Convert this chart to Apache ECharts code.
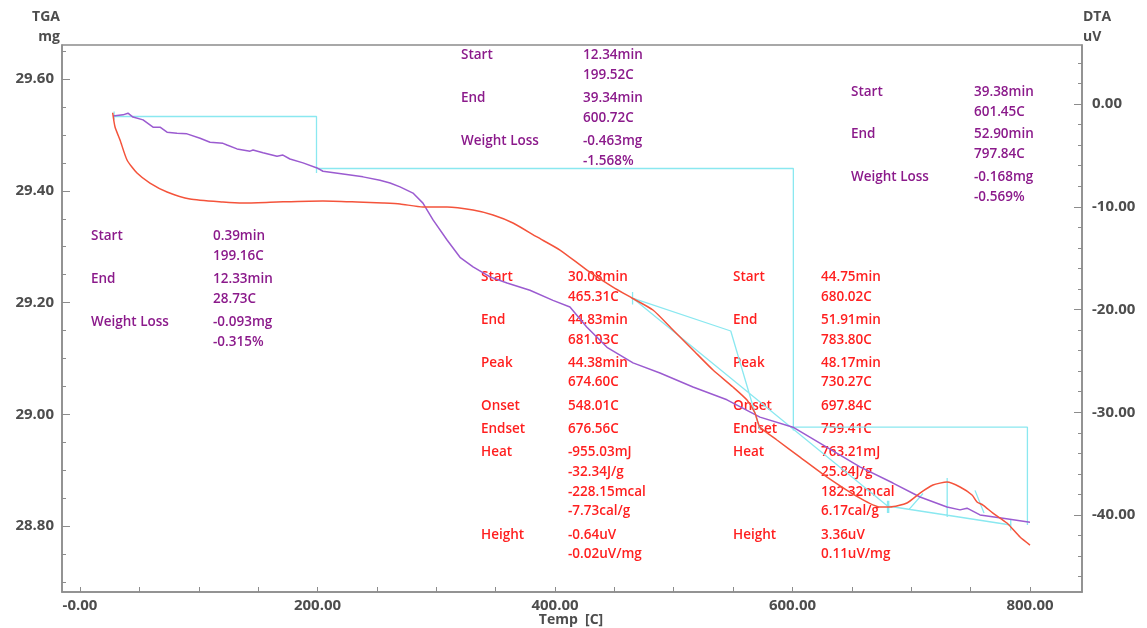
<!DOCTYPE html>
<html>
<head>
<meta charset="utf-8">
<script src="https://cdn.jsdelivr.net/npm/echarts@6/dist/echarts.min.js"></script>
<style>
html,body{margin:0;padding:0;background:#fff;}
#chart{width:1147px;height:628px;}
</style>
</head>
<body>
<div id="chart"></div>
<script>
// ---------- data ----------
const tempTGA = [27.8,36.2,40.4,44.6,53.1,61.5,67.4,73.3,81.7,90.1,101.1,109.5,120.4,123.8,132.2,143.2,145.7,154.1,165.9,170.9,176.8,187.8,199.6,204.6,221.5,238.3,252.6,261.1,269.5,280.4,288.8,297.3,309.1,320.0,331.0,345.3,359.6,378.9,398.3,412.6,426.9,443.8,465.7,488.4,516.2,544.8,572.6,600.4,629.1,656.8,684.6,707.4,730.1,741.1,747.0,757.9,777.3,800.0];
const tga = [29.534,29.536,29.539,29.532,29.527,29.514,29.514,29.505,29.503,29.502,29.494,29.487,29.485,29.482,29.475,29.471,29.473,29.468,29.462,29.464,29.457,29.450,29.441,29.435,29.430,29.425,29.419,29.414,29.407,29.396,29.378,29.348,29.312,29.281,29.264,29.246,29.235,29.222,29.204,29.192,29.156,29.120,29.092,29.074,29.049,29.026,28.995,28.977,28.941,28.906,28.877,28.852,28.834,28.829,28.832,28.820,28.814,28.807];

const tempDTA = [27.5,29.5,33.7,39.6,48.0,58.9,73.3,92.6,120.4,137.3,165.9,204.6,233.3,255.2,269.5,288.8,309.1,331.0,347.8,364.6,384.8,404.2,426.9,448.8,464.8,482.5,499.4,516.2,533.1,549.9,561.7,568.4,572.6,586.9,606.3,629.1,656.8,673.7,682.1,696.4,707.4,718.3,730.1,741.1,751.2,755.4,760.4,768.8,780.6,791.6,800.0];
const dta = [-0.85,-2.24,-3.50,-5.45,-6.72,-7.69,-8.56,-9.25,-9.54,-9.64,-9.54,-9.44,-9.54,-9.64,-9.73,-10.02,-10.02,-10.32,-10.80,-11.58,-12.94,-14.21,-16.16,-17.81,-18.88,-20.05,-22.00,-23.94,-25.89,-27.54,-28.81,-30.07,-31.44,-32.70,-34.36,-36.30,-38.35,-39.22,-39.22,-38.83,-37.86,-37.08,-36.79,-37.27,-38.05,-38.73,-39.03,-39.81,-40.78,-42.14,-42.92];

// weight-loss step lines (TGA axis), segments of [temp, mg] pairs
const stepSegs = [
  [[28.73,29.542],[28.73,29.527]],
  [[28.73,29.533],[199.16,29.533],[199.16,29.432]],
  [[199.16,29.440],[600.72,29.440],[600.72,28.971]],
  [[600.72,28.977],[797.84,28.977],[797.84,28.802]]
];
// DTA peak analysis lines (DTA axis)
const peakSegs = [
  [[465.31,-18.3],[465.31,-19.5]],
  [[465.31,-18.88],[548.01,-22.09],[572.6,-31.7]],
  [[465.31,-18.88],[681.03,-39.22]],
  [[680.02,-38.6],[680.02,-39.8]],
  [[681.03,-38.6],[681.03,-39.8]],
  [[680.02,-39.12],[783.80,-40.97]],
  [[783.80,-40.4],[783.80,-41.5]],
  [[730.27,-40.2],[730.27,-36.4]],
  [[697.84,-39.5],[709.9,-37.9]],
  [[753.7,-37.6],[761.3,-39.8]]
];

const xLabelVals = [0,200,400,600,800];
const xTickVals = [0,50,100,150,200,250,300,350,400,450,500,550,600,650,700,750,800];
const tgaLabelVals = [28.8,29.0,29.2,29.4,29.6];
const tgaTickVals = [28.70,28.75,28.80,28.85,28.90,28.95,29.00,29.05,29.10,29.15,29.20,29.25,29.30,29.35,29.40,29.45,29.50,29.55,29.60,29.65];
const dtaLabelVals = [-40,-30,-20,-10,0];
const dtaTickVals = [-46,-44,-42,-40,-38,-36,-34,-32,-30,-28,-26,-24,-22,-20,-18,-16,-14,-12,-10,-8,-6,-4,-2,0,2,4];

// annotation texts
const wlNames = ['Start','End','Weight Loss'];
const wl1 = ['0.39min','199.16C','12.33min','28.73C','-0.093mg','-0.315%'];
const wl2 = ['12.34min','199.52C','39.34min','600.72C','-0.463mg','-1.568%'];
const wl3 = ['39.38min','601.45C','52.90min','797.84C','-0.168mg','-0.569%'];
const pkNames = ['Start','','End','','Peak','','Onset','Endset','Heat','','','','Height',''];
const pk1 = ['30.08min','465.31C','44.83min','681.03C','44.38min','674.60C','548.01C','676.56C','-955.03mJ','-32.34J/g','-228.15mcal','-7.73cal/g','-0.64uV','-0.02uV/mg'];
const pk2 = ['44.75min','680.02C','51.91min','783.80C','48.17min','730.27C','697.84C','759.41C','763.21mJ','25.84J/g','182.32mcal','6.17cal/g','3.36uV','0.11uV/mg'];

// ---------- layout ----------
const XMIN = -15.16, XMAX = 843.8;
const TMIN = 28.682, TMAX = 29.661;
const DMIN = -47.49, DMAX = 5.742;
const purple = '#9b5bd0', red = '#f4533b', cyan = '#8ae8f0';
const txtPurple = '#8b1a8b', txtRed = '#ff1f1f';
const axisCol = '#8c8c8c', labCol = '#4d4d4d';
const FONT = '"Open Sans", "Noto Sans", sans-serif';

function pairs(xs, ys){ return xs.map((x,i)=>[x, ys[i]]); }
function segSeries(segs, yIdx){
  const data = [];
  segs.forEach((s,i)=>{ if(i>0) data.push([null,null]); s.forEach(p=>data.push(p)); });
  return {type:'line', yAxisIndex:yIdx, data, showSymbol:false, connectNulls:false,
    lineStyle:{color:cyan, width:1.3}, z:2, silent:true, animation:false};
}

const graphics = [];
function txt(x, y, s, color){
  graphics.push({type:'text', x, y, silent:true,
    style:{text:s, fill:color, font:'600 13.5px '+FONT, textVerticalAlign:'middle'}});
}
function wlBlock(x1, x2, y0, rowGap, vals){
  wlNames.forEach((n,i)=>{
    txt(x1, y0+i*rowGap, n, txtPurple);
    txt(x2, y0+i*rowGap, vals[2*i], txtPurple);
    txt(x2, y0+i*rowGap+20, vals[2*i+1], txtPurple);
  });
}
wlBlock(91, 213, 236, 43, wl1);
wlBlock(461, 583, 55, 43, wl2);
wlBlock(851, 974, 92, 42.5, wl3);
const pkOff = [0,20,43,63,86,105,129,152,175,195,215,234,258,277];
function pkBlock(x1, x2, y0, vals){
  pkOff.forEach((o,i)=>{
    if(pkNames[i]) txt(x1, y0+o, pkNames[i], txtRed);
    txt(x2, y0+o, vals[i], txtRed);
  });
}
pkBlock(481, 568, 277, pk1);
pkBlock(733, 821, 277, pk2);

// axis names
function axName(x, y, s, align){
  graphics.push({type:'text', x, y, silent:true,
    style:{text:s, fill:labCol, font:'bold 14px '+FONT, textAlign:align, textVerticalAlign:'middle'}});
}
axName(60, 17, 'TGA', 'right');
axName(60, 37, 'mg', 'right');
axName(1083, 17, 'DTA', 'left');
axName(1083, 37, 'uV', 'left');
axName(571, 620, 'Temp  [C]', 'center');

const fmt2 = v => (Math.abs(v) < 1e-9 ? '-0.00' : v.toFixed(2));
const labStyle = {color:labCol, fontWeight:'bold', fontSize:15, fontFamily:FONT};

const option = {
  animation:false,
  backgroundColor:'#fff',
  grid:{left:62, right:65, top:45, bottom:36, show:true, borderColor:axisCol, borderWidth:1.5},
  xAxis:{type:'value', min:XMIN, max:XMAX,
    axisLine:{show:true, onZero:false, lineStyle:{color:axisCol, width:1.5}},
    axisTick:{show:true, inside:true, length:5, customValues:xTickVals, lineStyle:{color:axisCol}},
    axisLabel:Object.assign({customValues:xLabelVals, formatter:fmt2, margin:6}, labStyle),
    splitLine:{show:false}},
  yAxis:[
    {type:'value', position:'left', min:TMIN, max:TMAX,
      axisLine:{show:true, onZero:false, lineStyle:{color:axisCol, width:1.5}},
      axisTick:{show:true, inside:true, length:4, customValues:tgaTickVals, lineStyle:{color:axisCol}},
      axisLabel:Object.assign({customValues:tgaLabelVals, formatter:v=>v.toFixed(2), margin:8}, labStyle),
      splitLine:{show:false}},
    {type:'value', position:'left', min:TMIN, max:TMAX,
      axisLine:{show:false, onZero:false},
      axisTick:{show:true, inside:true, length:8, customValues:tgaLabelVals, lineStyle:{color:axisCol}},
      axisLabel:{show:false}, splitLine:{show:false}},
    {type:'value', position:'right', min:DMIN, max:DMAX,
      axisLine:{show:true, onZero:false, lineStyle:{color:axisCol, width:1.5}},
      axisTick:{show:true, inside:true, length:4, customValues:dtaTickVals, lineStyle:{color:axisCol}},
      axisLabel:Object.assign({customValues:dtaLabelVals, formatter:v=>v.toFixed(2), margin:10}, labStyle),
      splitLine:{show:false}},
    {type:'value', position:'right', min:DMIN, max:DMAX,
      axisLine:{show:false, onZero:false},
      axisTick:{show:true, inside:true, length:8, customValues:dtaLabelVals, lineStyle:{color:axisCol}},
      axisLabel:{show:false}, splitLine:{show:false}}
  ],
  series:[
    segSeries(stepSegs, 0),
    segSeries(peakSegs, 2),
    {type:'line', name:'TGA', yAxisIndex:0, data:pairs(tempTGA, tga), showSymbol:false,
      lineStyle:{color:purple, width:1.5}, z:3},
    {type:'line', name:'DTA', yAxisIndex:2, data:pairs(tempDTA, dta), showSymbol:false, smooth:0.2,
      lineStyle:{color:red, width:1.5}, z:3}
  ],
  graphic:graphics
};
const chart = echarts.init(document.getElementById('chart'), null, {renderer:'canvas'});
chart.setOption(option);
</script>
</body>
</html>
